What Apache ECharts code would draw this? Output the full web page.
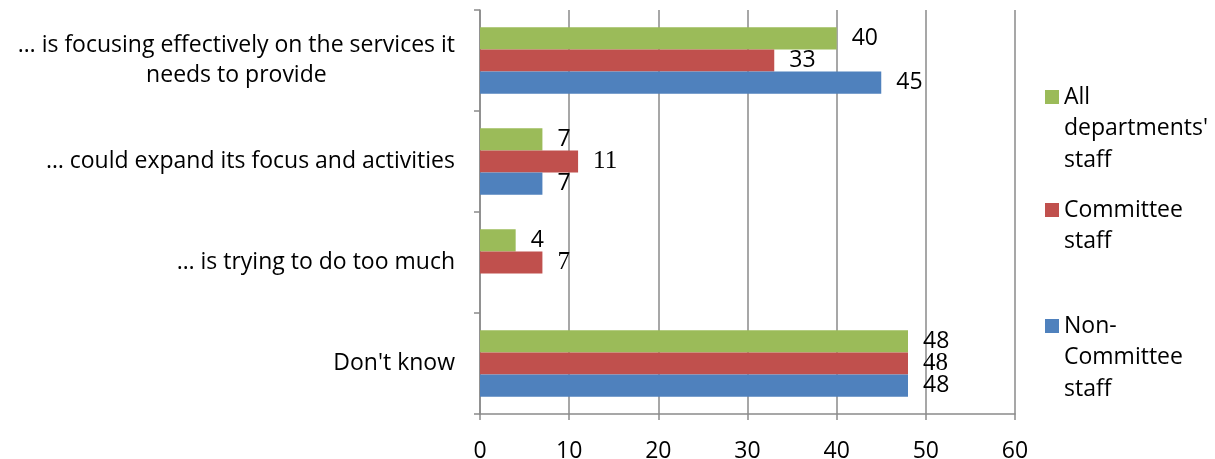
<!DOCTYPE html>
<html>
<head>
<meta charset="utf-8">
<script src="https://cdn.jsdelivr.net/npm/echarts@6/dist/echarts.min.js"></script>
<style>
  html, body { margin: 0; padding: 0; background: #fff; }
  #chart { width: 1215px; height: 459px; }
</style>
</head>
<body>
<div id="chart"></div>
<script>
// Survey answers, listed top to bottom
const categories = [
  '… is focusing effectively on the services it\nneeds to provide',
  '… could expand its focus and activities',
  '… is trying to do too much',
  "Don't know"
];
const allDepartments = [40, 7, 4, 48];
const committee = [33, 11, 7, 48];
const nonCommittee = [45, 7, '-', 48];
const xTicks = { min: 0, max: 60, interval: 10 };

// Legend names broken over lines as in the side key
const legendLines = {
  "All departments' staff": ['All', "departments'", 'staff'],
  'Committee staff': ['Committee', 'staff'],
  'Non-Committee staff': ['Non-', 'Committee', 'staff']
};

const FONT = '"Open Sans", "Noto Sans", sans-serif';
const SERIF = '"Liberation Serif", "DejaVu Serif", serif';
const FS = 23;
const LEGEND_LH = 31.5;
const GRID_COLOR = '#8a8a8a';

function barSeries(name, data, color, serifLabels) {
  return {
    name: name,
    type: 'bar',
    data: data.map((v, i) =>
      serifLabels && serifLabels.includes(i)
        ? { value: v, label: { fontFamily: SERIF, fontSize: 25 } }
        : v),
    barGap: 0,
    barCategoryGap: '34%',
    itemStyle: { color: color },
    label: {
      show: true,
      position: 'right',
      distance: 15,
      color: '#000',
      fontFamily: FONT,
      fontSize: FS
    }
  };
}

// One legend per entry so each can sit at its own height. Blank lines are put
// in front of a wrapped name so that its first line lines up with the swatch.
function legendAt(name, top) {
  const lines = legendLines[name];
  return {
    data: [name],
    left: 1045,
    top: top,
    orient: 'vertical',
    padding: 0,
    itemWidth: 14,
    itemHeight: 14,
    icon: 'rect',
    formatter: () => new Array(lines.length - 1).fill('').concat(lines).join('\n'),
    textStyle: {
      fontFamily: FONT,
      fontSize: FS,
      color: '#000',
      lineHeight: LEGEND_LH
    }
  };
}

const chart = echarts.init(document.getElementById('chart'));
chart.setOption({
  animation: false,
  grid: {
    left: 480, right: 200, top: 10, bottom: 45,
    containLabel: false,
    outerBoundsMode: 'none'
  },
  legend: [
    legendAt("All departments' staff", 18.25),
    legendAt('Committee staff', 162.75),
    legendAt('Non-Committee staff', 247.25)
  ],
  xAxis: {
    type: 'value',
    min: xTicks.min,
    max: xTicks.max,
    interval: xTicks.interval,
    axisLine: { show: true, lineStyle: { color: GRID_COLOR, width: 1.5 } },
    axisTick: { show: true, length: 6, lineStyle: { color: GRID_COLOR, width: 1.5 } },
    splitLine: { show: true, lineStyle: { color: GRID_COLOR, width: 1.5 } },
    axisLabel: { color: '#000', fontFamily: FONT, fontSize: FS, margin: 26 }
  },
  yAxis: {
    type: 'category',
    inverse: true,
    data: categories,
    axisLine: { show: true, lineStyle: { color: GRID_COLOR, width: 1.5 } },
    axisTick: { show: true, length: 6, lineStyle: { color: GRID_COLOR, width: 1.5 } },
    splitLine: { show: false },
    axisLabel: {
      margin: 25,
      align: 'right',
      formatter: v => v.split('\n').map(l => '{c|' + l + '}').join('\n'),
      rich: {
        c: { align: 'center', color: '#000', fontFamily: FONT, fontSize: FS, lineHeight: 30 }
      }
    }
  },
  series: [
    barSeries("All departments' staff", allDepartments, '#9BBB59'),
    barSeries('Committee staff', committee, '#C0504D', [1, 2, 3]),
    barSeries('Non-Committee staff', nonCommittee, '#4F81BD')
  ]
});
</script>
</body>
</html>
